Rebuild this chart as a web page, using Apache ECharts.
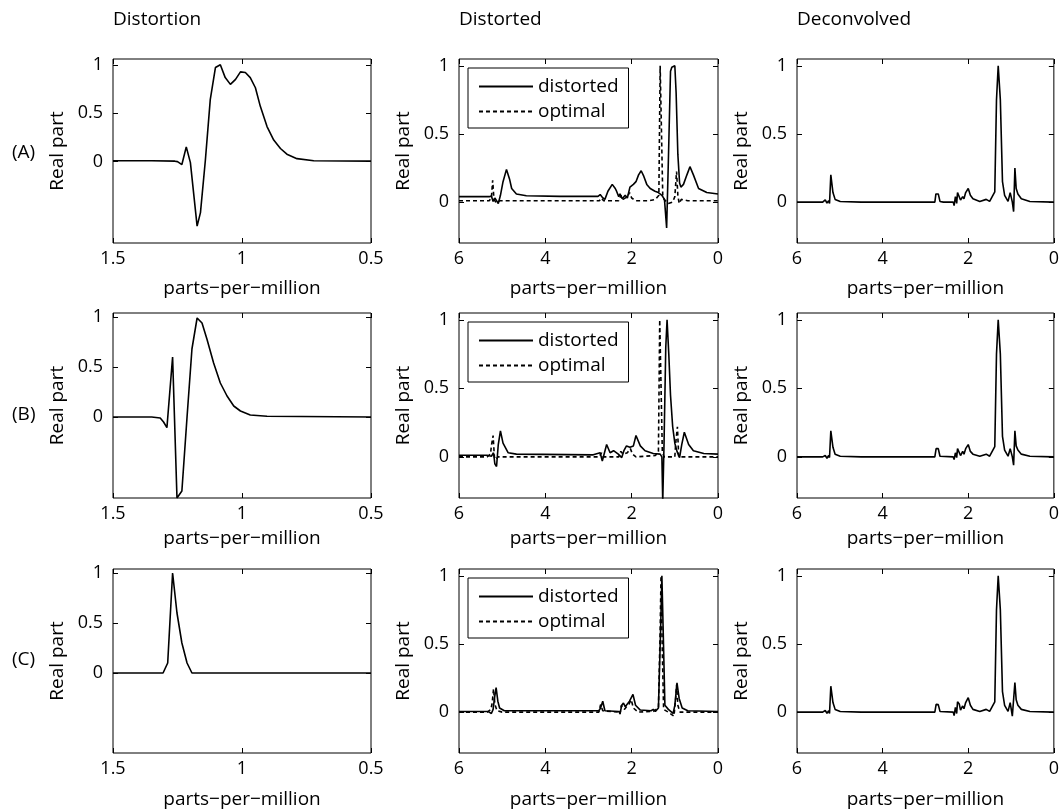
<!DOCTYPE html>
<html lang="en">
<head>
<meta charset="UTF-8">
<title>Distortion / Distorted / Deconvolved</title>
<style>
  * { margin: 0; padding: 0; }
  body { background: #fff; }
  #chart { width: 1062px; height: 810px; }
</style>
<script src="https://cdn.jsdelivr.net/npm/echarts@6/dist/echarts.min.js"></script>
</head>
<body>
<div id="chart"></div>
<script>
// values, pairs of [ppm, real part]

// column 1: distortion functions
var distortionA = [[1.5,0.01],[1.35,0.01],[1.26,0.005],[1.25,0.0],[1.233,-0.03],[1.216,0.153],[1.2,-0.01],[1.194,-0.02],
  [1.174,-0.666],[1.161,-0.526],[1.142,0.014],[1.123,0.641],[1.103,0.972],[1.084,1.0],[1.065,0.868],[1.045,0.798],
  [1.025,0.85],[1.006,0.927],[0.987,0.92],[0.968,0.868],[0.948,0.763],[0.929,0.571],[0.903,0.362],[0.877,0.223],
  [0.851,0.136],[0.826,0.077],[0.787,0.031],[0.722,0.01],[0.5,0.005]];
var distortionB = [[1.5,0.0],[1.35,0.0],[1.317,-0.01],[1.304,-0.05],[1.291,-0.107],[1.269,0.6],[1.252,-0.81],[1.233,-0.74],
  [1.213,0.0],[1.194,0.68],[1.174,0.99],[1.155,0.94],[1.136,0.78],[1.11,0.54],[1.084,0.34],[1.058,0.21],[1.032,0.11],
  [1.006,0.06],[0.968,0.02],[0.903,0.007],[0.5,0.0]];
var distortionC = [[1.5,0],[1.306,0],[1.288,0.1],[1.269,1.0],[1.252,0.6],[1.233,0.3],[1.213,0.1],[1.194,0],[0.5,0]];

// column 2: distorted spectra
var distortedA = [[6,0.04],[5.3,0.04],[5.25,0.045],[5.21,0.005],[5.17,0.03],[5.13,0.01],[5.09,-0.01],[5.04,0.05],[4.98,0.15],
  [4.9,0.24],[4.83,0.17],[4.78,0.1],[4.67,0.06],[4.44,0.047],[3.66,0.042],[2.78,0.042],[2.73,0.055],[2.68,0.035],[2.62,0.02],
  [2.55,0.08],[2.45,0.13],[2.38,0.1],[2.35,0.08],[2.3,0.04],[2.27,0.06],[2.22,0.025],[2.19,0.02],[2.15,0.05],[2.1,0.03],
  [2.04,0.11],[1.96,0.13],[1.9,0.15],[1.84,0.2],[1.78,0.23],[1.72,0.19],[1.65,0.13],[1.57,0.1],[1.46,0.08],[1.38,0.07],
  [1.3,0.05],[1.24,0.02],[1.19,-0.19],[1.15,0.3],[1.1,0.96],[1.07,0.99],[1.0,1.0],[0.97,0.8],[0.93,0.35],[0.89,0.14],
  [0.86,0.11],[0.8,0.13],[0.72,0.2],[0.65,0.26],[0.57,0.2],[0.45,0.1],[0.26,0.07],[0,0.06]];
var optimalA = [[6,0.01],[5.3,0.01],[5.25,0.03],[5.22,0.16],[5.19,0.02],[5.15,0.0],[5.05,0.01],[2.75,0.01],[2.7,0.03],
  [2.65,0.01],[2.3,0.01],[2.25,0.05],[2.2,0.02],[2.1,0.04],[2.05,0.07],[2.0,0.03],[1.9,0.01],[1.6,0.01],[1.45,0.02],
  [1.37,0.05],[1.34,1.0],[1.31,1.0],[1.28,0.05],[1.25,0.02],[1.15,-0.01],[1.05,0.0],[1.0,0.04],[0.96,0.225],[0.93,0.05],
  [0.9,-0.01],[0.85,0.02],[0.7,0.01],[0,0.01]];
var distortedB = [[6,0.012],[5.35,0.012],[5.33,0.02],[5.25,0.005],[5.2,0.03],[5.17,-0.05],[5.13,-0.07],[5.09,0.09],[5.04,0.19],
  [4.98,0.1],[4.86,0.03],[4.67,0.02],[2.89,0.015],[2.73,0.03],[2.68,-0.03],[2.58,0.09],[2.5,0.03],[2.42,0.045],[2.31,0.02],
  [2.23,-0.005],[2.18,0.045],[2.12,0.08],[2.04,0.07],[1.96,0.08],[1.9,0.156],[1.8,0.08],[1.69,0.045],[1.5,0.025],[1.34,0.02],
  [1.3,0.0],[1.28,-0.33],[1.25,0.1],[1.21,0.8],[1.18,1.0],[1.14,0.75],[1.1,0.45],[1.05,0.22],[1.0,0.1],[0.95,0.04],
  [0.89,-0.005],[0.84,0.09],[0.78,0.18],[0.68,0.09],[0.57,0.045],[0.33,0.025],[0,0.02]];
var optimalB = [[6,0.0],[5.35,0.0],[5.27,0.02],[5.25,0.08],[5.21,0.156],[5.18,0.0],[5.15,-0.02],[5.1,0.0],[2.75,0.0],[2.7,0.03],
  [2.66,0.0],[2.3,0.0],[2.25,0.04],[2.2,0.02],[2.1,0.03],[2.03,0.06],[1.98,0.02],[1.9,0.0],[1.45,0.01],[1.38,0.04],[1.35,1.0],
  [1.32,1.0],[1.29,0.04],[1.25,0.0],[1.0,0.0],[0.98,0.1],[0.94,0.22],[0.91,0.0],[0.85,0.0],[0,0.0]];
var distortedC = [[6,0.005],[5.35,0.005],[5.3,0.0],[5.25,-0.01],[5.21,0.02],[5.17,0.12],[5.14,0.18],[5.1,0.08],[5.06,0.03],
  [4.95,0.01],[2.76,0.01],[2.72,0.03],[2.67,0.08],[2.62,0.01],[2.58,0.01],[2.3,0.005],[2.27,-0.01],[2.23,0.05],[2.19,0.067],
  [2.15,0.04],[2.11,0.05],[2.05,0.08],[1.97,0.13],[1.91,0.05],[1.8,0.015],[1.55,0.01],[1.5,0.02],[1.45,0.005],[1.38,0.03],
  [1.33,0.6],[1.3,1.0],[1.27,0.6],[1.23,0.05],[1.15,0.02],[1.04,-0.01],[1.0,0.05],[0.95,0.215],[0.9,0.1],[0.83,0.03],
  [0.7,0.01],[0,0.005]];
var optimalC = [[6,0.0],[5.35,0.0],[5.26,0.02],[5.23,0.07],[5.2,0.17],[5.17,0.06],[5.12,0.01],[5.0,0.0],[2.76,0.0],[2.72,0.055],
  [2.67,0.01],[2.3,0.0],[2.27,-0.015],[2.24,0.05],[2.2,0.04],[2.17,0.02],[2.12,0.04],[2.06,0.06],[2.01,0.09],[1.96,0.03],
  [1.85,0.0],[1.5,0.005],[1.38,0.03],[1.34,0.6],[1.32,1.0],[1.3,0.6],[1.26,0.02],[1.15,0.0],[1.02,-0.03],[0.98,0.1],
  [0.96,0.2],[0.93,0.05],[0.88,0.0],[0,0.0]];

// column 3: deconvolved spectra
var deconvolvedA = [[6,0],[5.4,0.0],[5.34,0.017],[5.3,-0.007],[5.26,0.01],[5.24,-0.01],[5.21,0.2],[5.16,0.07],[5.11,0.02],
  [4.99,0.005],[4.5,0.0],[2.78,0.0],[2.755,0.06],[2.7,0.06],[2.66,0.005],[2.58,0.0],[2.35,0.0],[2.33,-0.025],[2.3,0.04],
  [2.27,-0.01],[2.25,0.07],[2.21,0.06],[2.18,0.015],[2.13,0.04],[2.1,0.025],[2.06,0.07],[2.0,0.1],[1.95,0.05],[1.89,0.025],
  [1.73,0.005],[1.58,0.02],[1.5,0.005],[1.38,0.075],[1.34,0.75],[1.3,1.0],[1.25,0.75],[1.2,0.15],[1.15,0.05],[1.07,0.005],
  [1.02,0.07],[0.97,0.0],[0.94,-0.07],[0.91,0.25],[0.88,0.1],[0.84,0.06],[0.76,0.025],[0.56,0.005],[0,0.0]];
var deconvolvedB = [[6,0.0],[5.4,0.0],[5.34,0.01],[5.3,-0.01],[5.26,0.01],[5.24,-0.005],[5.21,0.19],[5.16,0.07],[5.11,0.02],
  [4.99,0.005],[4.5,0.0],[2.78,0.0],[2.75,0.06],[2.7,0.06],[2.66,0.005],[2.35,0.0],[2.33,-0.02],[2.3,0.03],[2.27,-0.005],
  [2.25,0.06],[2.21,0.05],[2.18,0.01],[2.13,0.04],[2.1,0.02],[2.06,0.06],[2.0,0.09],[1.95,0.04],[1.89,0.02],[1.73,0.005],
  [1.58,0.02],[1.5,0.005],[1.38,0.075],[1.34,0.75],[1.3,1.0],[1.25,0.75],[1.2,0.15],[1.15,0.05],[1.07,0.005],[1.02,0.06],
  [0.97,0.0],[0.94,-0.06],[0.91,0.19],[0.88,0.08],[0.84,0.05],[0.76,0.02],[0.56,0.005],[0,0.0]];
var deconvolvedC = [[6,0.0],[5.4,0.0],[5.34,0.012],[5.3,-0.008],[5.26,0.01],[5.24,-0.01],[5.21,0.19],[5.16,0.07],[5.11,0.02],
  [4.99,0.005],[4.5,0.0],[2.78,0.0],[2.75,0.057],[2.7,0.055],[2.66,0.005],[2.35,0.0],[2.33,-0.025],[2.3,0.035],[2.27,-0.01],
  [2.25,0.076],[2.21,0.06],[2.18,0.015],[2.13,0.045],[2.1,0.025],[2.06,0.07],[2.0,0.106],[1.95,0.05],[1.89,0.02],[1.73,0.005],
  [1.58,0.02],[1.5,0.005],[1.38,0.075],[1.34,0.75],[1.3,1.0],[1.25,0.75],[1.2,0.15],[1.15,0.05],[1.07,0.005],[1.02,0.07],
  [0.97,-0.03],[0.94,-0.03],[0.91,0.217],[0.88,0.09],[0.84,0.05],[0.76,0.02],[0.56,0.005],[0,0.0]];

var colTitles = ['Distortion', 'Distorted', 'Deconvolved'];
var rowLabels = ['(A)', '(B)', '(C)'];
var legendNames = ['distorted', 'optimal'];
var yTickValues = [0, 0.5, 1];
var xLimits = [[0.5, 1.5], [0, 6], [0, 6]];
var xSteps = [0.5, 2, 2];
var yLimits = [
  [[-0.84, 1.06], [-0.3, 1.05], [-0.3, 1.05]],
  [[-0.81, 1.04], [-0.3, 1.05], [-0.3, 1.05]],
  [[-0.80, 1.04], [-0.3, 1.05], [-0.3, 1.05]]
];
var panelSeries = [
  [[distortionA], [distortedA, optimalA], [deconvolvedA]],
  [[distortionB], [distortedB, optimalB], [deconvolvedB]],
  [[distortionC], [distortedC, optimalC], [deconvolvedC]]
];

// layout (px)
var colLeft = [113, 459, 797];
var colWidth = [258, 259, 257];
var rowTop = [59, 313, 569];
var rowHeight = [184, 185, 184];
var rowLabelY = [155, 417, 662];
var nameGapX = [36, 31, 37];

var FONT = '"Open Sans", "DejaVu Sans", sans-serif';

var chart = echarts.init(document.getElementById('chart'), null, {renderer: 'canvas'});

var grids = [], xAxes = [], yAxes = [], series = [], legends = [], graphics = [];

for (var r = 0; r < 3; r++) {
  for (var c = 0; c < 3; c++) {
    var k = r * 3 + c;
    grids.push({
      left: colLeft[c], top: rowTop[r], width: colWidth[c], height: rowHeight[r],
      show: true, borderColor: '#000', borderWidth: 1, backgroundColor: 'transparent'
    });
    var tick = {show: true, inside: true, length: 5, lineStyle: {color: '#000', width: 1}};
    var noLine = {show: false, onZero: false};
    // bottom x axis with labels, top one only carries ticks
    xAxes.push({
      type: 'value', gridIndex: k, position: 'bottom', inverse: true,
      min: xLimits[c][0], max: xLimits[c][1], interval: xSteps[c],
      axisLine: noLine, axisTick: tick, splitLine: {show: false},
      axisLabel: {color: '#000', fontSize: 18, fontFamily: FONT, margin: 7},
      name: 'parts\u2212per\u2212million', nameLocation: 'middle', nameGap: nameGapX[r],
      nameTextStyle: {color: '#000', fontSize: 19, fontFamily: FONT}
    });
    xAxes.push({
      type: 'value', gridIndex: k, position: 'top', inverse: true,
      min: xLimits[c][0], max: xLimits[c][1], interval: xSteps[c],
      axisLine: noLine, axisTick: tick, splitLine: {show: false},
      axisLabel: {show: false}
    });
    yAxes.push({
      type: 'value', gridIndex: k, position: 'left',
      min: yLimits[r][c][0], max: yLimits[r][c][1],
      axisLine: noLine, splitLine: {show: false},
      axisTick: {show: true, inside: true, length: 5, lineStyle: {color: '#000'}, customValues: yTickValues},
      axisLabel: {color: '#000', fontSize: 18, fontFamily: FONT, margin: 10, customValues: yTickValues},
      name: 'Real part', nameLocation: 'middle', nameGap: 46,
      nameTextStyle: {color: '#000', fontSize: 19, fontFamily: FONT}
    });
    yAxes.push({
      type: 'value', gridIndex: k, position: 'right',
      min: yLimits[r][c][0], max: yLimits[r][c][1],
      axisLine: noLine, splitLine: {show: false},
      axisTick: {show: true, inside: true, length: 5, lineStyle: {color: '#000'}, customValues: yTickValues},
      axisLabel: {show: false, customValues: yTickValues}
    });

    var lines = panelSeries[r][c];
    for (var s = 0; s < lines.length; s++) {
      var dashed = (c === 1 && s === 1);
      series.push({
        name: c === 1 ? legendNames[s] : colTitles[c] + ' ' + rowLabels[r],
        type: 'line', xAxisIndex: 2 * k, yAxisIndex: 2 * k,
        data: lines[s], symbol: 'none', smooth: false, animation: false,
        lineStyle: {color: '#000', width: 1.6, type: dashed ? [4, 3] : 'solid'},
        itemStyle: {color: 'transparent', borderColor: 'transparent', borderWidth: 0},
        z: dashed ? 3 : 2
      });
    }
  }

  // legend box in the middle column
  legends.push({
    data: legendNames, orient: 'vertical', left: 468, top: rowTop[r] + 9,
    padding: [9, 10, 7, 10], itemGap: 6, itemWidth: 54, itemHeight: 2,
    borderColor: '#000', borderWidth: 1, borderRadius: 0, backgroundColor: '#fff',
    selectedMode: false,
    itemStyle: {color: 'transparent', borderColor: 'transparent', borderWidth: 0},
    textStyle: {color: '#000', fontSize: 19, fontFamily: FONT}
  });

  // row labels (A), (B), (C)
  graphics.push({
    type: 'text', left: 12, top: rowLabelY[r] - 12,
    style: {text: rowLabels[r], fill: '#000', font: '19px ' + FONT}
  });
}

// column titles
for (var c2 = 0; c2 < 3; c2++) {
  graphics.push({
    type: 'text', left: colLeft[c2], top: 10,
    style: {text: colTitles[c2], fill: '#000', font: '19px ' + FONT}
  });
}

chart.setOption({
  backgroundColor: '#fff',
  animation: false,
  textStyle: {fontFamily: FONT},
  grid: grids,
  xAxis: xAxes,
  yAxis: yAxes,
  legend: legends,
  series: series,
  graphic: graphics
});

window.onresize = function () {
  chart.resize();
};
</script>
</body>
</html>
